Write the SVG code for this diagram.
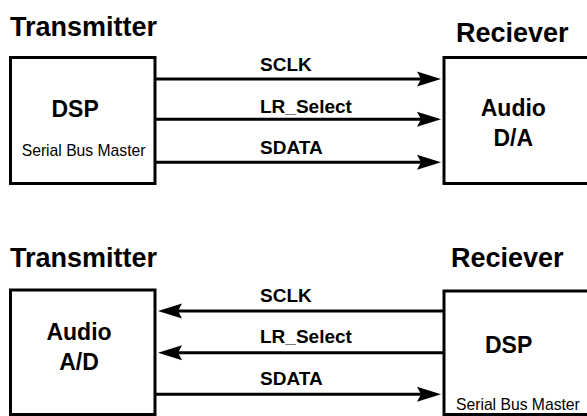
<svg xmlns="http://www.w3.org/2000/svg" width="587" height="416" viewBox="0 0 587 416">
<style>
.box{fill:#fff;stroke:#000;stroke-width:3}
.t{font-family:"Liberation Sans",Arial,sans-serif;fill:#000}
.h{font-size:27px;font-weight:bold}
.n{font-size:23px;font-weight:bold}
.s{font-size:15.7px}
.l{font-size:19px;font-weight:bold}
.w{stroke:#000;stroke-width:3;fill:none}
</style>
<defs>
<marker id="ah" markerUnits="userSpaceOnUse" viewBox="-25 -8 25 16" refX="-20" refY="0" markerWidth="25" markerHeight="16" orient="auto">
<path d="M0,0 L-24,-7.5 L-20,0 L-24,7.5 Z" fill="#000"/>
</marker>
</defs>
<rect width="587" height="416" fill="#fff"/>
<g id="tx1">
<text class="t h" x="10" y="36">Transmitter</text>
<rect class="box" x="10.5" y="57.5" width="144.5" height="126"/>
<text class="t n" x="51.5" y="116.7">DSP</text>
<text class="t s" x="21.7" y="156">Serial Bus Master</text>
</g>
<g id="rx1">
<text class="t h" x="456" y="41.7">Reciever</text>
<rect class="box" x="444" y="57.5" width="160" height="126"/>
<text class="t n" x="513.3" y="116" text-anchor="middle">Audio</text>
<text class="t n" x="513.3" y="145.7" text-anchor="middle">D/A</text>
</g>
<g id="tx2">
<text class="t h" x="10" y="266.7">Transmitter</text>
<rect class="box" x="10.5" y="290" width="144.5" height="124.5"/>
<text class="t n" x="79" y="340" text-anchor="middle">Audio</text>
<text class="t n" x="79" y="370" text-anchor="middle">A/D</text>
</g>
<g id="rx2">
<text class="t h" x="451" y="266.7">Reciever</text>
<rect class="box" x="444" y="291" width="160" height="123.5"/>
<text class="t n" x="485" y="353.3">DSP</text>
<text class="t s" x="456" y="410">Serial Bus Master</text>
</g>
<g id="connectors">
<line class="w" x1="155" y1="79" x2="421" y2="79" marker-end="url(#ah)"/>
<line class="w" x1="155" y1="119.3" x2="421" y2="119.3" marker-end="url(#ah)"/>
<line class="w" x1="155" y1="162.3" x2="421" y2="162.3" marker-end="url(#ah)"/>
<line class="w" x1="444" y1="311" x2="178" y2="311" marker-end="url(#ah)"/>
<line class="w" x1="444" y1="352.7" x2="178" y2="352.7" marker-end="url(#ah)"/>
<line class="w" x1="155" y1="394.3" x2="421" y2="394.3" marker-end="url(#ah)"/>
<text class="t l" x="260" y="71">SCLK</text>
<text class="t l" x="260" y="113.3">LR_Select</text>
<text class="t l" x="260" y="154">SDATA</text>
<text class="t l" x="260" y="301.7">SCLK</text>
<text class="t l" x="260" y="343.3">LR_Select</text>
<text class="t l" x="260" y="385">SDATA</text>
</g>
</svg>
